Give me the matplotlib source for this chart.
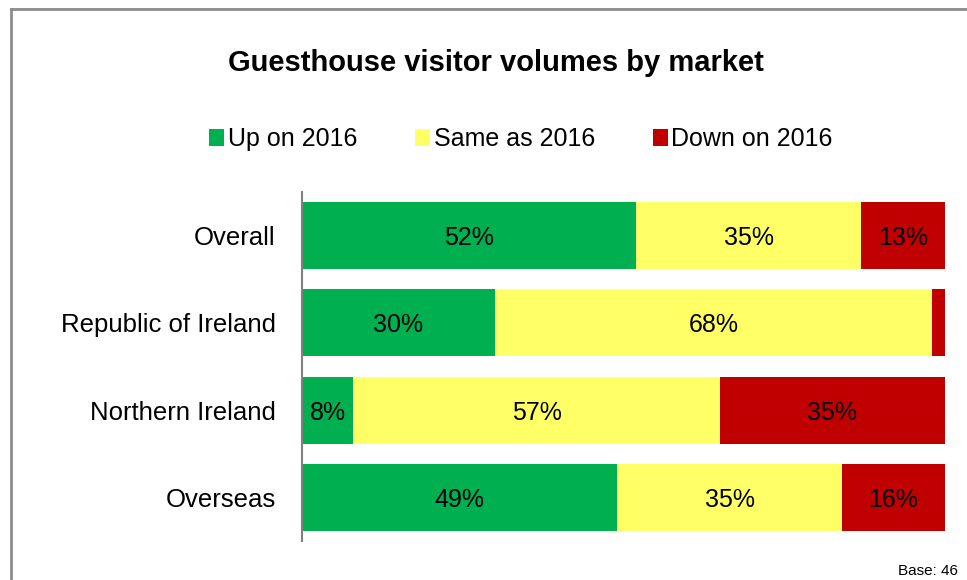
import matplotlib.pyplot as plt
from matplotlib.patches import Patch
from matplotlib.lines import Line2D
import numpy as np

plt.rcParams['font.family'] = ['Liberation Sans', 'DejaVu Sans']

# data
markets = ['Overall', 'Republic of Ireland', 'Northern Ireland', 'Overseas']
up = [52, 30, 8, 49]
same = [35, 68, 57, 35]
down = [13, 2, 35, 16]
series_names = ['Up on 2016', 'Same as 2016', 'Down on 2016']
colors = ['#00B050', '#FFFF66', '#C00000']

fig = plt.figure(figsize=(9.67, 5.8), dpi=100)
ax = fig.add_axes([302/967, 1 - 541/580, (945 - 302)/967, (541 - 192)/580])

y = np.arange(len(markets))
left = np.zeros(len(markets))
for vals, c in zip([up, same, down], colors):
    vals = np.array(vals)
    ax.barh(y, vals, left=left, height=0.77, color=c, edgecolor='none')
    for yi, l, v in zip(y, left, vals):
        if v >= 5:
            ax.text(l + v/2, yi + 0.03, f'{v}%', ha='center', va='center', fontsize=18, color='black')
    left = left + vals

ax.set_xlim(0, 100)
ax.set_ylim(len(markets) - 0.5, -0.5)
ax.set_yticks(y)
ax.set_yticklabels(markets, fontsize=18.5)
ax.tick_params(axis='y', length=0, pad=19)
ax.set_xticks([])
for s in ['top', 'right', 'bottom']:
    ax.spines[s].set_visible(False)
ax.spines['left'].set_color('#808080')
ax.spines['left'].set_linewidth(1.5)

fig.text(496/967, 1 - 63/580, 'Guesthouse visitor volumes by market', ha='center', va='center',
         fontsize=21, fontweight='bold')

handles = [Patch(facecolor=c, edgecolor='none') for c in colors]
fig.legend(handles, series_names, loc='center', bbox_to_anchor=(521/967, 1 - 139/580), ncol=3,
           frameon=False, fontsize=18, handlelength=0.6, handleheight=0.7, handletextpad=0.15,
           columnspacing=2.3)

fig.text(958/967, 1 - 571/580, 'Base: 46', ha='right', va='center', fontsize=11)

# outer frame (cropped at right and bottom)
fig.add_artist(Line2D([11/967, 1], [1 - 9/580, 1 - 9/580], transform=fig.transFigure, color='#8c8c8c', lw=2))
fig.add_artist(Line2D([11/967, 11/967], [0, 1 - 9/580], transform=fig.transFigure, color='#8c8c8c', lw=2))

fig.savefig('out.png', dpi=100)
